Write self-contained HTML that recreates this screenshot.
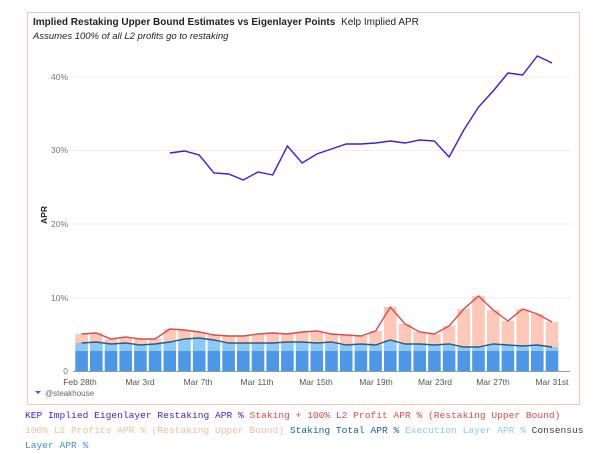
<!DOCTYPE html>
<html><head><meta charset="utf-8"><style>
body{margin:0;width:600px;height:454px;background:#fff;overflow:hidden;font-family:"Liberation Sans",sans-serif}
.lg{position:absolute;left:25px;font-family:"Liberation Mono",monospace;font-size:9.6px;line-height:15px}
</style></head><body>
<svg width="600" height="454" style="position:absolute;left:0;top:0" font-family="Liberation Sans, sans-serif">
<rect x="27.5" y="12.5" width="552" height="392" fill="#fff" stroke="#f5c6b8"/>
<text x="33" y="25" font-size="10" font-weight="bold" fill="#222">Implied Restaking Upper Bound Estimates vs Eigenlayer Points <tspan font-weight="normal" dx="3">Kelp Implied APR</tspan></text>
<text x="33" y="39" font-size="9.5" font-style="italic" fill="#222">Assumes 100% of all L2 profits go to restaking</text>
<g stroke="#eee" stroke-width="1">
<line x1="73" x2="570" y1="77" y2="77"/><line x1="73" x2="570" y1="150.5" y2="150.5"/><line x1="73" x2="570" y1="224" y2="224"/><line x1="73" x2="570" y1="298" y2="298"/>
</g>
<g font-size="8.5" fill="#777" text-anchor="end">
<text x="68" y="80">40%</text><text x="68" y="153">30%</text><text x="68" y="227">20%</text><text x="68" y="301">10%</text><text x="68" y="374">0</text>
</g>
<text transform="translate(47,215) rotate(-90)" font-size="8.5" font-weight="bold" fill="#222" text-anchor="middle">APR</text>
<g id="bars"></g>
<line x1="73" x2="570" y1="371.5" y2="371.5" stroke="#999"/>
<g font-size="8.5" fill="#555" text-anchor="middle">
<text x="80" y="385">Feb 28th</text><text x="140" y="385">Mar 3rd</text><text x="198" y="385">Mar 7th</text><text x="257" y="385">Mar 11th</text><text x="316" y="385">Mar 15th</text><text x="376" y="385">Mar 19th</text><text x="435" y="385">Mar 23rd</text><text x="493" y="385">Mar 27th</text><text x="552" y="385">Mar 31st</text>
</g>
<path d="M35 391 l3 3 l3 -3 z" fill="#7a3fc0"/>
<text x="45" y="396" font-size="8" fill="#666">@steakhouse</text>
</svg>
<div class="lg" style="top:408px;width:560px"><span style="color:#3a1fd6">KEP Implied Eigenlayer Restaking APR %</span> <span style="color:#e8474a">Staking + 100% L2 Profit APR % (Restaking Upper Bound)</span> <span style="color:#f6b8a6">100% L2 Profits APR % (Restaking Upper Bound)</span> <span style="color:#17609a">Staking Total APR %</span> <span style="color:#8fc8f3">Execution Layer APR %</span> <span style="color:#444">Consensus</span> <span style="color:#3f8ee0">Layer APR %</span></div>
<script>
var red=[334,333,339,337,339,339,329,330,332,335,336,336,334,333,334,332,331,334,335,336,331,307,324,332,334,326,309,296,310,321,309,314,322];
var blue=[343,342,344,343,345,344,342,339,338,340,343,343,343,343,342,342,343,342,345,344,345,340,344,344,345,344,347,347,344,345,346,345,347];
var pur=[153,151,155,173,174,180,172,175,146,163,154,149,144,144,143,141,143,140,141,157,130,107,91,73,75,56,63];
function X(i){return 81.6+14.7*i}
var s='';
for(var i=0;i<33;i++){var x=X(i)-6.3,w=12.6;
s+='<rect x="'+x+'" y="'+red[i]+'" width="'+w+'" height="'+(blue[i]-red[i])+'" fill="#fcc9b8"/>';
s+='<rect x="'+x+'" y="'+blue[i]+'" width="'+w+'" height="'+(351-blue[i])+'" fill="#8ccaf5"/>';
s+='<rect x="'+x+'" y="351" width="'+w+'" height="20" fill="#4e96e6"/>';}
function pl(a,o,c){var p=a.map(function(v,j){return X(j+o).toFixed(1)+','+v}).join(' ');return '<polyline points="'+p+'" fill="none" stroke="'+c+'" stroke-width="1.4"/>'}
s+=pl(blue,0,'#17609a')+pl(red,0,'#e2474a')+pl(pur,6,'#3a1fd6');
document.getElementById('bars').innerHTML=s;
</script>
</body></html>
